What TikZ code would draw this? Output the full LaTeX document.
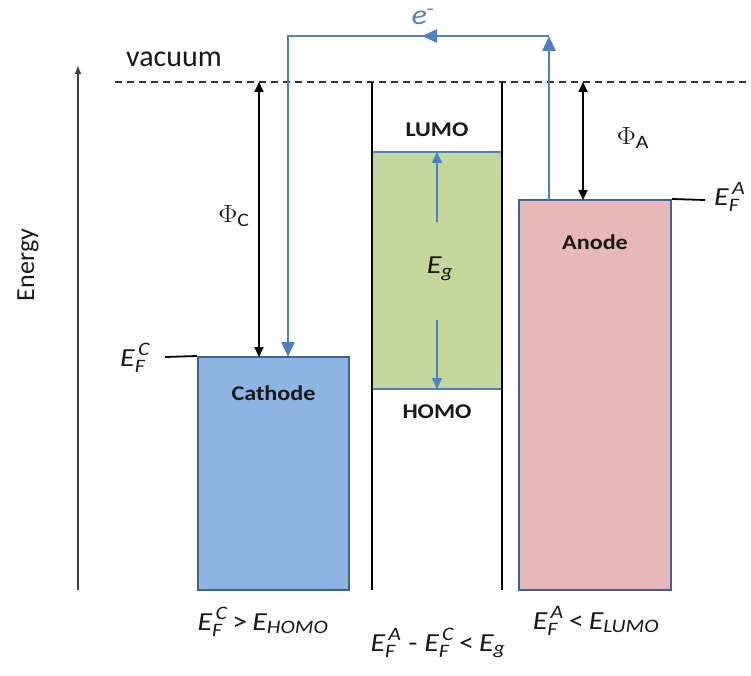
\documentclass[tikz,border=0pt]{standalone}
\usepackage{fontspec}
\usepackage{amsmath}
\setmainfont{Carlito}
\DeclareMathSizes{26}{26}{19}{15}
\DeclareMathSizes{24}{24}{18}{14}
\DeclareMathSizes{28}{28}{20}{15}
\usetikzlibrary{arrows.meta}
\definecolor{eblue}{HTML}{4F81BD}
\definecolor{cathfill}{HTML}{8EB4E3}
\definecolor{edgeblue}{HTML}{3F6494}
\definecolor{gapfill}{HTML}{C3D69B}
\definecolor{anfill}{HTML}{E6B9B8}
\newcommand\hs[1]{\scalebox{1.15}[1]{#1}}
\newcommand\EF[1]{\textit{E}_{\textit{F}}^{\,\textit{#1}}}
\tikzset{
  box/.style={draw=edgeblue, line width=2pt, inner sep=0pt},
  blk/.style={black, line width=1.8pt},
  bluepath/.style={eblue, line width=2.6pt},
  bigtip/.style={-{Triangle[length=15pt,width=13pt]}},
  midtip/.style={-{Triangle[length=11pt,width=10pt]}},
  dbl/.style={{Triangle[length=10pt,width=9pt]}-{Triangle[length=10pt,width=9pt]}},
  lbl/.style={font=\fontsize{21}{25}\selectfont\bfseries, text=black!90, inner sep=0pt},
  mlbl/.style={font=\fontsize{26}{30}\selectfont, inner sep=0pt, text=black!90},
  plbl/.style={font=\fontsize{26}{30}\selectfont, inner sep=0pt, text=black!90}
}
\begin{document}
\begin{tikzpicture}[x=1pt,y=-1pt]
\useasboundingbox (0,0) rectangle (751,676);
% energy axis
\coordinate (axB) at (78,590);
\coordinate (axT) at (78,65);
\draw[black!75, line width=1.8pt, -{Latex[length=9pt,width=7pt]}] (axB) -- (axT);
\node[font=\fontsize{26}{30}\selectfont, rotate=90, text=black!90] (energy) at (28,265) {Energy};
% vacuum
\coordinate (vacL) at (115,82);
\coordinate (vacR) at (751,82);
\draw[black!80, line width=1.5pt, dash pattern=on 7pt off 5pt] (vacL) -- (vacR);
\node[font=\fontsize{30}{34}\selectfont, text=black!90, inner sep=0pt] (vac) at (174,59) {vacuum};
% cathode
\node[box, fill=cathfill, minimum width=151pt, minimum height=233pt] (cath) at (273.5,473.5) {};
\node[lbl] (cathl) at (273.5,393) {\hs{Cathode}};
\coordinate (efcL) at (165,357);
\draw[blk] (efcL) -- (cath.north west);
\node[mlbl, anchor=base west] (efc) at (120,366) {\hs{$\EF{C}$}};
% phi C
\coordinate (phcT) at (259,82);
\coordinate (phcB) at (259,357);
\draw[blk, dbl] (phcT) -- (phcB);
\node[plbl] (phc) at (234,216) {\hs{$\Phi_{\text{C}}$}};
% gap
\node[fill=gapfill, minimum width=130pt, minimum height=237pt, inner sep=0pt] (gap) at (437,270.5) {};
\draw[eblue, line width=2pt] (gap.north west) -- (gap.north east);
\draw[eblue, line width=2pt] (gap.south west) -- (gap.south east);
\coordinate (mlT) at (372,82);
\coordinate (mlB) at (372,590);
\coordinate (mrT) at (502,82);
\coordinate (mrB) at (502,590);
\draw[black, line width=2.4pt] (mlT) -- (mlB);
\draw[black, line width=2.4pt] (mrT) -- (mrB);
\node[lbl] (lumo) at (437,130) {\hs{LUMO}};
\node[lbl] (homo) at (437,412) {\hs{HOMO}};
\coordinate (egU1) at (437,222);
\coordinate (egU2) at (437,152);
\coordinate (egD1) at (437,320);
\coordinate (egD2) at (437,389);
\draw[eblue, line width=2pt, midtip] (egU1) -- (egU2);
\draw[eblue, line width=2pt, midtip] (egD1) -- (egD2);
\node[plbl] (eg) at (440,269) {\hs{$\textit{E}_{\textit{g}}$}};
% anode
\node[box, fill=anfill, minimum width=152pt, minimum height=390pt] (anode) at (595,395) {};
\node[lbl] (anl) at (595,242) {\hs{Anode}};
\coordinate (efaR) at (705,200);
\draw[blk] (anode.north east) -- (efaR);
\node[mlbl, anchor=base west] (efa) at (714,205) {\hs{$\EF{A}$}};
% phi A
\coordinate (phaT) at (583,82);
\coordinate (phaB) at (583,200);
\draw[blk, dbl] (phaT) -- (phaB);
\node[plbl] (pha) at (633,138) {\hs{$\Phi_{\text{A}}$}};
% electron path
\coordinate (eS) at (549,200);
\coordinate (eR) at (549,36);
\coordinate (eM) at (422,36);
\coordinate (eL) at (288,36);
\coordinate (eE) at (288,357);
\draw[bluepath, bigtip] (eS) -- (eR);
\draw[bluepath, bigtip] (eR) -- (eM);
\draw[bluepath, bigtip] (eR) -- (eL) -- (eE);
\node[font=\fontsize{28}{32}\selectfont, inner sep=0pt, text=eblue] (el) at (423,17) {\hs{$\textit{e}^{\text{-}}$}};
% bottom relations
\node[mlbl, anchor=base] (r1) at (263,630) {\hs{$\EF{C}$\,>\,$\textit{E}_{\textit{HOMO}}$}};
\node[mlbl, anchor=base] (r2) at (438,651) {\hs{$\EF{A}$ - $\EF{C}$\,<\,$\textit{E}_{\textit{g}}$}};
\node[mlbl, anchor=base] (r3) at (596,629) {\hs{$\EF{A}$\,<\,$\textit{E}_{\textit{LUMO}}$}};
\end{tikzpicture}
\end{document}
